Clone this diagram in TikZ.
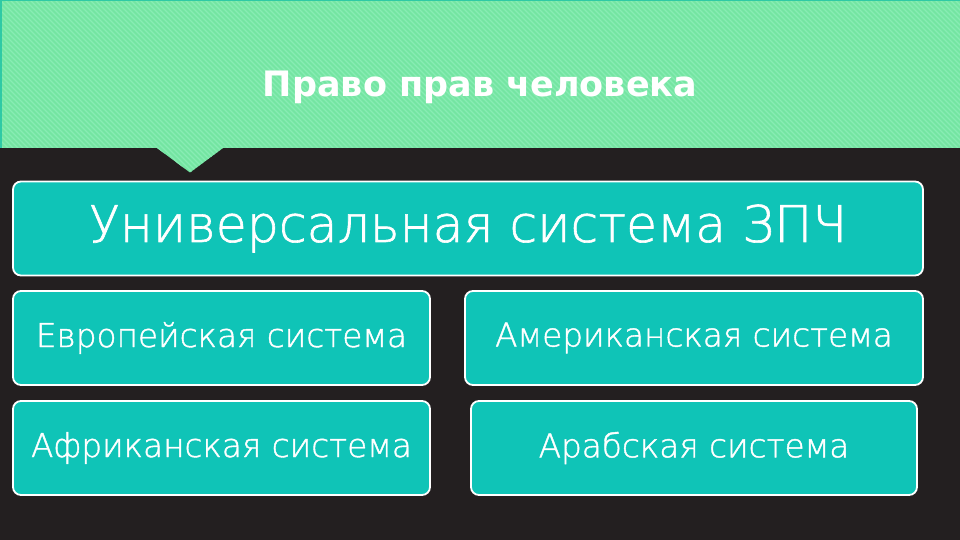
\documentclass[tikz,border=0pt]{standalone}
\usepackage{fontspec}
\setmainfont{DejaVu Sans}[UprightFont={* ExtraLight}, UprightFeatures={FakeBold=1.2}, BoldFont={* Bold}, BoldFeatures={FakeBold=0}]
\usepackage{tikz}

\definecolor{bgdark}{HTML}{231F20}
\definecolor{bandgreen}{HTML}{74E5A2}
\definecolor{bandstripe}{HTML}{88ECB4}
\definecolor{bandedge}{HTML}{2FC9A5}
\definecolor{boxteal}{HTML}{0FC4B7}

\begin{document}
\begin{tikzpicture}[x=1pt,y=-1pt]
                \tikzstyle{system} = [rectangle, draw=white, line width=1.8pt, fill=boxteal, rounded corners=8pt, inner sep=0pt, text=white, minimum height=94pt]
                \tikzstyle{mainsys} = [system, minimum width=910pt, font=\fontsize{50.5}{50.5}\selectfont]
                \tikzstyle{region} = [system, font=\fontsize{32.7}{32.7}\selectfont]
                
                \useasboundingbox (0,0) rectangle (960,540);
                \fill[bgdark] (0,0) rectangle (960,540);
                
                % green band with pointer
                \begin{scope}
                \clip (0,0) -- (960,0) -- (960,148) -- (223,148) -- (190,172.5) -- (157,148) -- (0,148) -- cycle;
                \fill[bandgreen] (0,0) rectangle (960,175);
                \foreach \i in {-180,-175,...,960}
                    \draw[bandstripe, line width=1.2pt] (\i,0) -- (\i+180,180);
                \end{scope}
                \draw[bandedge, line width=1.5pt] (0.75,148) -- (0.75,0.75) -- (960,0.75);
                
                \node (title) [anchor=base, text=white, font=\bfseries\fontsize{35}{35}\selectfont] at (480,97) {Право прав человека};
                
                \node (universal) [mainsys] at (468,228.5) {Универсальная система ЗПЧ};
                \node (european) [region, minimum width=417pt] at (221.5,338) {Европейская система};
                \node (african) [region, minimum width=417pt, below of=european, node distance=110pt] {Африканская система};
                \node (american) [region, minimum width=458pt] at (694,338) {Американская система};
                \node (arab) [region, minimum width=446pt, below of=american, node distance=110pt] {Арабская система};
            \end{tikzpicture}
\end{document}
